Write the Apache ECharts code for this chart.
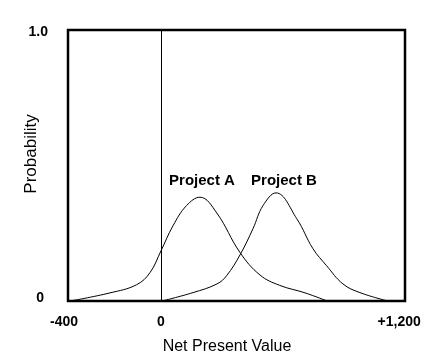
<!DOCTYPE html>
<html>
<head>
<meta charset="utf-8">
<script src="https://cdn.jsdelivr.net/npm/echarts@6/dist/echarts.min.js"></script>
<style>
html,body{margin:0;padding:0;background:#fff;}
#chart{width:433px;height:364px;}
</style>
</head>
<body>
<div id="chart"></div>
<script>
// Net present value (plot units) vs probability
var projectA = [
  [-390, 0], [-219, 0.03], [-105, 0.06], [-47, 0.105],
  [0, 0.185], [52, 0.278], [110, 0.352], [168, 0.383], [240, 0.325],
  [340, 0.179], [426, 0.096], [510, 0.058], [620, 0.03], [715, 0]
];
var projectB = [
  [5, 0], [138, 0.031], [241, 0.063], [282, 0.093], [340, 0.17],
  [396, 0.267], [439, 0.352], [495, 0.399], [584, 0.304], [654, 0.193],
  [713, 0.13], [783, 0.063], [856, 0.031], [976, 0]
];
var seriesNames = ['Project A', 'Project B'];
var xTickValues = [-400, 0, 1025];
var xTickLabels = ['-400', '0', '+1,200'];
var yTickLabels = {0: '0', 1: '1.0'};
var xAxisTitle = 'Net Present Value';
var yAxisTitle = 'Probability';

var FONT = '"Liberation Sans", Arial, sans-serif';
var chart = echarts.init(document.getElementById('chart'), null, {renderer: 'canvas'});

function peakLabel(offset) {
  return {
    symbol: 'circle', symbolSize: 1, silent: true,
    itemStyle: {color: 'rgba(0,0,0,0)'},
    label: {
      show: true, position: 'inside', offset: offset,
      formatter: function (p) { return p.seriesName; },
      color: '#000', fontFamily: FONT, fontWeight: 'bold', fontSize: 15
    },
    data: [{type: 'max'}]
  };
}
var tickStyle = {fontFamily: FONT, fontWeight: 'bold', fontSize: 14, color: '#000'};

chart.setOption({
  animation: false,
  backgroundColor: '#fff',
  grid: {
    left: 68, right: 28, top: 30, bottom: 63,
    containLabel: false, outerBoundsMode: 'none',
    show: true, borderColor: '#000', borderWidth: 2.5, backgroundColor: 'transparent'
  },
  xAxis: {
    type: 'value', min: -400, max: 1050,
    name: xAxisTitle, nameLocation: 'middle', nameGap: 38, nameMoveOverlap: false,
    nameTextStyle: {color: '#000', fontFamily: FONT, fontSize: 16, padding: [0, 19, 0, 0]},
    axisLine: {show: false}, axisTick: {show: false}, splitLine: {show: false},
    axisLabel: {
      customValues: xTickValues, margin: 14,
      color: '#000', fontFamily: FONT, fontWeight: 'bold', fontSize: 14,
      formatter: function (v) {
        var i = xTickValues.indexOf(v);
        if (i < 0) return '';
        return i === 0 ? '{l|' + xTickLabels[i] + '}' : xTickLabels[i];
      },
      rich: {
        l: Object.assign({padding: [0, 8, 0, 0]}, tickStyle)
      }
    }
  },
  yAxis: {
    type: 'value', min: 0, max: 1, interval: 1,
    name: yAxisTitle, nameLocation: 'middle', nameGap: 28, nameRotate: 90, nameMoveOverlap: false,
    nameTextStyle: {color: '#000', fontFamily: FONT, fontSize: 17, padding: [0, 0, 0, 23]},
    axisLine: {show: false}, axisTick: {show: false}, splitLine: {show: false},
    axisLabel: {
      margin: 20, color: '#000', fontFamily: FONT, fontWeight: 'bold', fontSize: 14,
      formatter: function (v) {
        return v === 1 ? '{t|' + yTickLabels[1] + '}' : '{z|' + yTickLabels[0] + '}';
      },
      rich: {
        t: Object.assign({padding: [4, 0, 0, 0]}, tickStyle),
        z: Object.assign({padding: [0, 4, 6, 0]}, tickStyle)
      }
    }
  },
  series: [
    {
      name: seriesNames[0], type: 'line', data: projectA, smooth: 0.4,
      showSymbol: false, lineStyle: {color: '#000', width: 1}, itemStyle: {color: '#000'},
      markPoint: peakLabel([2, -16]),
      markLine: {
        silent: true, symbol: ['none', 'none'], label: {show: false},
        lineStyle: {color: '#000', width: 1, type: 'solid'},
        data: [{xAxis: 0}]
      }
    },
    {
      name: seriesNames[1], type: 'line', data: projectB, smooth: 0.4,
      showSymbol: false, lineStyle: {color: '#000', width: 1}, itemStyle: {color: '#000'},
      markPoint: peakLabel([8, -12])
    }
  ]
});
</script>
</body>
</html>
